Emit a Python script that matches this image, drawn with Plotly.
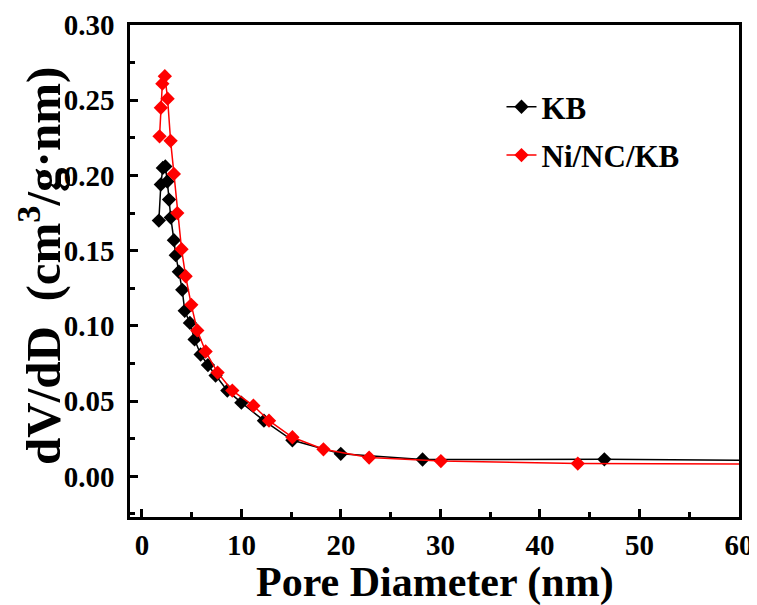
import plotly.graph_objects as go

# Pore size distribution data
kb_x = [1.70, 1.90, 2.10, 2.35, 2.55, 2.72, 2.90, 3.21, 3.40, 3.71, 4.05,
        4.30, 4.82, 5.29, 5.90, 6.63, 7.40, 8.58, 9.99, 12.26, 15.12,
        19.98, 28.2, 46.47, 80.0]
kb_y = [0.170, 0.194, 0.205, 0.206, 0.196, 0.184, 0.172, 0.157, 0.147, 0.136, 0.124,
        0.110, 0.102, 0.091, 0.081, 0.074, 0.067, 0.057, 0.049, 0.037, 0.024,
        0.015, 0.0112, 0.0113, 0.0100]

ni_x = [1.77, 1.90, 2.05, 2.30, 2.58, 2.88, 3.21, 3.55, 3.98, 4.39, 4.96,
        5.56, 6.40, 7.60, 9.08, 11.2, 12.77, 15.12, 18.24, 22.83, 30.04,
        43.8, 80.0]
ni_y = [0.226, 0.245, 0.261, 0.266, 0.251, 0.223, 0.201, 0.175, 0.151, 0.133, 0.114,
        0.097, 0.083, 0.069, 0.057, 0.047, 0.037, 0.026, 0.018, 0.0125, 0.0102,
        0.0085, 0.0080]

x_ticks = [0, 10, 20, 30, 40, 50, 60]
y_ticks = [0.00, 0.05, 0.10, 0.15, 0.20, 0.25, 0.30]

FONT = "Liberation Serif, Times New Roman, serif"

fig = go.Figure()
fig.add_trace(go.Scatter(
    x=kb_x, y=kb_y, mode="lines+markers", name="<b>KB</b>", legendgroup="a",
    line=dict(color="#000000", width=1.5),
    marker=dict(symbol="diamond", size=11, color="#000000"),
    cliponaxis=True))
fig.add_trace(go.Scatter(
    x=ni_x, y=ni_y, mode="lines+markers", name="<b>Ni/NC/KB</b>", legendgroup="b",
    line=dict(color="#ff0000", width=1.5),
    marker=dict(symbol="diamond", size=11, color="#ff0000"),
    cliponaxis=True))

axis_common = dict(
    showline=True, linecolor="black", linewidth=2.5, mirror=True,
    ticks="inside", ticklen=8, tickwidth=2.5, tickcolor="black",
    showgrid=False, zeroline=False, automargin=False,
    tickfont=dict(family=FONT, size=29, color="black"),
)

fig.update_layout(
    width=749, height=597,
    margin=dict(l=122, r=18, t=17, b=88),
    paper_bgcolor="white", plot_bgcolor="white",
    font=dict(family=FONT, color="black"),
    showlegend=True,
    legend=dict(x=0.61, y=0.888, xanchor="left", yanchor="top",
                bgcolor="rgba(0,0,0,0)", tracegroupgap=5,
                font=dict(family=FONT, size=31, color="black")),
    xaxis=dict(
        range=[-1.2, 60], tickmode="array", tickvals=x_ticks,
        ticktext=[f"<b>{v}</b>" for v in x_ticks],
        minor=dict(ticks="inside", ticklen=5, tickwidth=2.5, tickcolor="black", dtick=5, tick0=0),
        ticklabelstandoff=0,
        **axis_common),
    yaxis=dict(
        range=[-0.027, 0.30], tickmode="array", tickvals=y_ticks,
        ticktext=[f"<b>{v:.2f}</b>" for v in y_ticks],
        minor=dict(ticks="inside", ticklen=5, tickwidth=2.5, tickcolor="black", dtick=0.025, tick0=0),
        ticklabelstandoff=7,
        **axis_common),
    annotations=[
        dict(text="<b>Pore Diameter (nm)</b>", xref="paper", yref="paper",
             x=0.501, y=-0.134, xanchor="center", yanchor="middle", showarrow=False,
             font=dict(family=FONT, size=42, color="black")),
        dict(text="<b>dV/dD  (cm<sup>3</sup>/g·nm)</b>", xref="paper", yref="paper",
             x=-0.148, y=0.51, xanchor="center", yanchor="middle", showarrow=False,
             textangle=-90, font=dict(family=FONT, size=49, color="black")),
    ],
)

fig.write_html("out.html")
